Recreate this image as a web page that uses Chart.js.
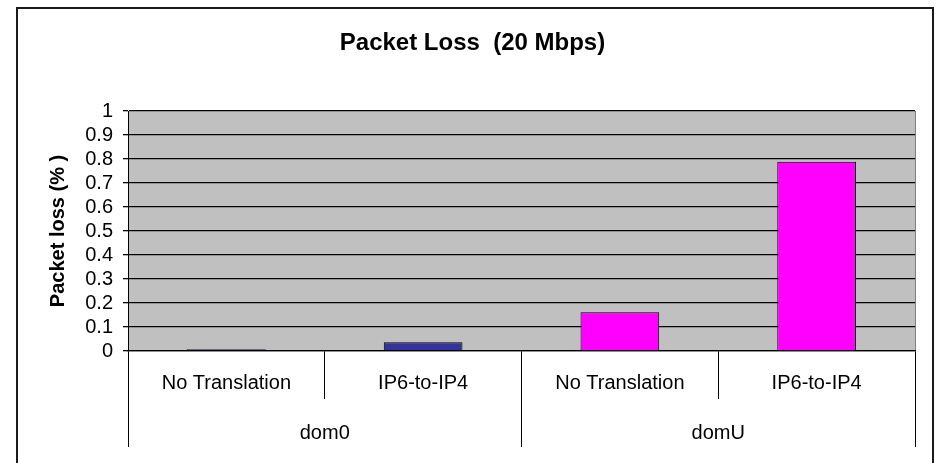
<!DOCTYPE html>
<html>
<head>
<meta charset="utf-8">
<title>Packet Loss (20 Mbps)</title>
<script src="https://cdn.jsdelivr.net/npm/chart.js@4.4.1/dist/chart.umd.min.js"></script>
<style>
  html, body { margin: 0; padding: 0; background: #ffffff; overflow: hidden; }
  canvas { display: block; }
</style>
</head>
<body>
<canvas id="chart" width="938" height="463"></canvas>
<script>
// Test cases, grouped by host domain
const categories = ['No Translation', 'IP6-to-IP4', 'No Translation', 'IP6-to-IP4'];
const groups = ['dom0', 'domU'];
// Packet loss in percent
const packetLoss = [0.007, 0.036, 0.161, 0.789];
const barColors = ['#333399', '#333399', '#FF00FF', '#FF00FF'];
const yTickLabels = ['0', '0.1', '0.2', '0.3', '0.4', '0.5', '0.6', '0.7', '0.8', '0.9', '1'];

const FONT = "'Liberation Sans', Arial, Helvetica, sans-serif";

// Grey plot background and the outer chart frame
const framePlugin = {
  id: 'frame',
  beforeDraw(chart) {
    const { ctx, chartArea: a } = chart;
    ctx.save();
    ctx.fillStyle = '#C0C0C0';
    ctx.fillRect(a.left, a.top, a.right - a.left, a.bottom - a.top);
    ctx.strokeStyle = '#808080';
    ctx.lineWidth = 1;
    ctx.beginPath();
    ctx.moveTo(a.right + 0.5, a.top);
    ctx.lineTo(a.right + 0.5, a.bottom);
    ctx.stroke();
    ctx.restore();
  },
  afterDraw(chart) {
    const { ctx } = chart;
    ctx.save();
    ctx.strokeStyle = '#1a1a1a';
    ctx.lineWidth = 2;
    ctx.strokeRect(17, 8, 916, 600);
    ctx.restore();
  }
};

new Chart(document.getElementById('chart'), {
  type: 'bar',
  data: {
    labels: categories,
    datasets: [{
      data: packetLoss,
      backgroundColor: barColors,
      borderColor: '#000000',
      borderWidth: 1,
      barPercentage: 0.4,
      categoryPercentage: 1.0
    }]
  },
  options: {
    responsive: false,
    animation: false,
    devicePixelRatio: 1,
    layout: { padding: { left: 30, right: 23, top: 0, bottom: 16 } },
    plugins: {
      legend: { display: false },
      tooltip: { enabled: false },
      title: {
        display: true,
        text: 'Packet Loss  (20 Mbps)',
        color: '#000000',
        font: { family: FONT, size: 24, weight: 'bold', lineHeight: 1.2 },
        padding: { top: 29, bottom: 53.2 }
      }
    },
    scales: {
      y: {
        min: 0,
        max: 1,
        afterFit(scale) { scale.width = 98; },
        ticks: {
          stepSize: 0.1,
          autoSkip: false,
          color: '#000000',
          padding: 10,
          font: { family: FONT, size: 20 },
          callback: (value, index) => yTickLabels[index]
        },
        grid: { color: '#000000', lineWidth: 1.3, tickLength: 5 },
        border: { display: true, color: '#000000', width: 1 },
        title: {
          display: true,
          text: 'Packet loss (% )',
          color: '#000000',
          font: { family: FONT, size: 20, weight: 'bold', lineHeight: 1.2 },
          padding: { top: 16, bottom: 0 }
        }
      },
      x: {
        position: 'bottom',
        afterFit(scale) { scale.height = 48; },
        ticks: {
          color: '#000000',
          padding: -28,
          maxRotation: 0,
          autoSkip: false,
          font: { family: FONT, size: 20 }
        },
        grid: {
          offset: true,
          drawOnChartArea: false,
          color: '#000000',
          lineWidth: 1,
          tickLength: 48
        },
        border: { display: true, color: '#000000', width: 1.3 }
      },
      x2: {
        type: 'category',
        position: 'bottom',
        labels: groups,
        offset: true,
        afterFit(scale) { scale.height = 48; },
        ticks: {
          color: '#000000',
          padding: -26,
          maxRotation: 0,
          autoSkip: false,
          font: { family: FONT, size: 20 }
        },
        grid: {
          offset: true,
          drawOnChartArea: false,
          color: '#000000',
          lineWidth: 1,
          tickLength: 48
        },
        border: { display: false }
      }
    }
  },
  plugins: [framePlugin]
});
</script>
</body>
</html>
